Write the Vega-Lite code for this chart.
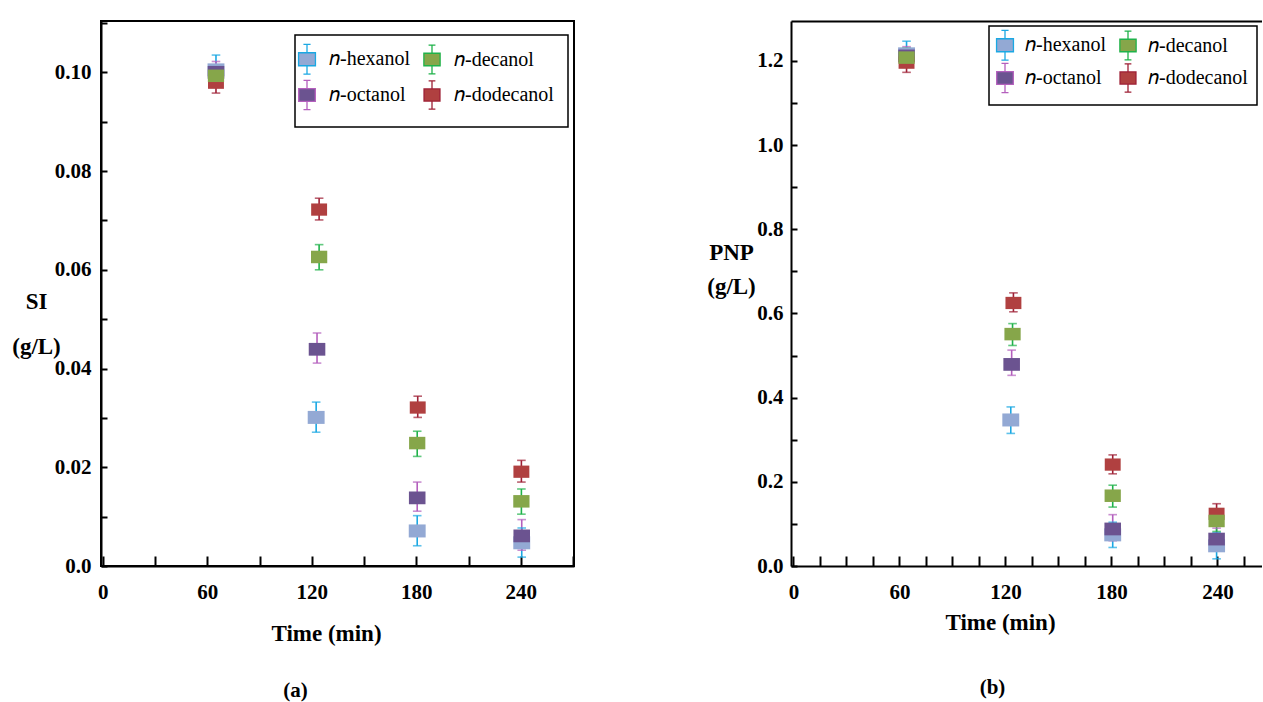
{
  "$schema": "https://vega.github.io/schema/vega-lite/v6.json",
  "background": "white",
  "padding": {"left": 10, "top": 10, "right": 0, "bottom": 0},
  "spacing": 131,
  "resolve": {"scale": {"fill": "independent", "stroke": "independent", "size": "independent"}, "legend": {"fill": "independent", "stroke": "independent", "size": "independent"}},
  "datasets": {
    "si": [
      {"s": "𝑛-hexanol", "t": 65, "v": 0.1005, "lo": 0.0975, "hi": 0.1035},
      {"s": "𝑛-hexanol", "t": 122.5, "v": 0.0301, "lo": 0.0271, "hi": 0.0332},
      {"s": "𝑛-hexanol", "t": 180.5, "v": 0.0071, "lo": 0.0041, "hi": 0.0102},
      {"s": "𝑛-hexanol", "t": 240.5, "v": 0.0047, "lo": 0.0018, "hi": 0.0077},
      {"s": "𝑛-octanol", "t": 65, "v": 0.1, "lo": 0.0978, "hi": 0.1022},
      {"s": "𝑛-octanol", "t": 123, "v": 0.0439, "lo": 0.0411, "hi": 0.0472},
      {"s": "𝑛-octanol", "t": 180.5, "v": 0.0138, "lo": 0.0111, "hi": 0.017},
      {"s": "𝑛-octanol", "t": 240.5, "v": 0.0061, "lo": 0.0032, "hi": 0.0094},
      {"s": "𝑛-dodecanol", "t": 65, "v": 0.0979, "lo": 0.0958, "hi": 0.1},
      {"s": "𝑛-dodecanol", "t": 124.2, "v": 0.0722, "lo": 0.0701, "hi": 0.0745},
      {"s": "𝑛-dodecanol", "t": 180.8, "v": 0.0321, "lo": 0.0301, "hi": 0.0344},
      {"s": "𝑛-dodecanol", "t": 240.3, "v": 0.0191, "lo": 0.017, "hi": 0.0214},
      {"s": "𝑛-decanol", "t": 65, "v": 0.0993, "lo": 0.0973, "hi": 0.1013},
      {"s": "𝑛-decanol", "t": 124.2, "v": 0.0626, "lo": 0.06, "hi": 0.0651},
      {"s": "𝑛-decanol", "t": 180.5, "v": 0.0249, "lo": 0.0222, "hi": 0.0273},
      {"s": "𝑛-decanol", "t": 240.3, "v": 0.0131, "lo": 0.0105, "hi": 0.0156}
    ],
    "pnp": [
      {"s": "𝑛-hexanol", "t": 64, "v": 1.217, "lo": 1.187, "hi": 1.247},
      {"s": "𝑛-hexanol", "t": 123, "v": 0.347, "lo": 0.315, "hi": 0.378},
      {"s": "𝑛-hexanol", "t": 180.7, "v": 0.074, "lo": 0.044, "hi": 0.104},
      {"s": "𝑛-hexanol", "t": 239.5, "v": 0.048, "lo": 0.017, "hi": 0.079},
      {"s": "𝑛-octanol", "t": 64, "v": 1.212, "lo": 1.19, "hi": 1.234},
      {"s": "𝑛-octanol", "t": 123.5, "v": 0.479, "lo": 0.453, "hi": 0.513},
      {"s": "𝑛-octanol", "t": 180.7, "v": 0.088, "lo": 0.06, "hi": 0.122},
      {"s": "𝑛-octanol", "t": 239.5, "v": 0.064, "lo": 0.04, "hi": 0.09},
      {"s": "𝑛-dodecanol", "t": 64, "v": 1.196, "lo": 1.173, "hi": 1.219},
      {"s": "𝑛-dodecanol", "t": 124.5, "v": 0.625, "lo": 0.604, "hi": 0.649},
      {"s": "𝑛-dodecanol", "t": 180.7, "v": 0.241, "lo": 0.219, "hi": 0.264},
      {"s": "𝑛-dodecanol", "t": 239.5, "v": 0.124, "lo": 0.1, "hi": 0.148},
      {"s": "𝑛-decanol", "t": 64, "v": 1.208, "lo": 1.185, "hi": 1.231},
      {"s": "𝑛-decanol", "t": 124, "v": 0.551, "lo": 0.524, "hi": 0.576},
      {"s": "𝑛-decanol", "t": 180.7, "v": 0.167, "lo": 0.14, "hi": 0.192},
      {"s": "𝑛-decanol", "t": 239.5, "v": 0.107, "lo": 0.082, "hi": 0.13}
    ]
  },
  "hconcat": [
    {
      "width": 473,
      "height": 545,
      "data": {"name": "si"},
      "title": {"text": "(a)", "orient": "bottom", "anchor": "middle", "frame": "group", "dx": -42, "offset": 35, "fontSize": 21, "fontWeight": "bold", "font": "Liberation Serif", "color": "black"},
      "layer": [
        {
          "mark": {"type": "rule", "strokeWidth": 1.6},
          "encoding": {
            "x": {"field": "t", "type": "quantitative", "scale": {"domain": [-1, 270.5], "nice": false, "zero": false},
              "axis": {"values": [0,15,30,45,60,75,90,105,120,135,150,165,180,195,210,225,240,255,270],
                "labelExpr": "datum.value % 60 === 0 && datum.value <= 240 ? datum.label : ''",
                "tickSize": -10, "labelPadding": 25, "labelOverlap": false, "labelFlush": false,
                "encode": {"ticks": {"update": {"y2": {"signal": "datum.value % 30 === 0 ? -10 : -5"}}}},
                "title": "Time (min)", "titleX": 225, "titleY": 74, "titleAlign": "center", "titleBaseline": "alphabetic"}},
            "y": {"field": "lo", "type": "quantitative", "scale": {"domain": [0, 0.1104], "nice": false},
              "axis": {"values": [0,0.01,0.02,0.03,0.04,0.05,0.06,0.07,0.08,0.09,0.1,0.11],
                "labelExpr": "round(datum.value*100) % 2 === 0 ? (datum.value === 0 ? '0.0' : format(datum.value, '.2f')) : ''",
                "tickSize": -6, "labelPadding": 16, "labelOverlap": false, "labelFlush": false,
                "title": ["SI", "(g/L)"], "titleAngle": 0, "titleX": -65, "titleY": 287, "titleAlign": "center", "titleBaseline": "alphabetic", "titleLineHeight": 45}},
            "y2": {"field": "hi"},
            "stroke": {"field": "s", "type": "nominal", "scale": {"domain": ["𝑛-hexanol", "𝑛-octanol", "𝑛-decanol", "𝑛-dodecanol"], "range": ["#1ba8e3", "#b45fbd", "#1fb24a", "#9e1f35"]}}
          }
        },
        {
          "mark": {"type": "tick", "orient": "horizontal", "size": 7, "thickness": 0.01, "filled": false, "strokeWidth": 1.6},
          "encoding": {
            "x": {"field": "t", "type": "quantitative"},
            "y": {"field": "lo", "type": "quantitative"},
            "stroke": {"field": "s", "type": "nominal"}
          }
        },
        {
          "mark": {"type": "tick", "orient": "horizontal", "size": 7, "thickness": 0.01, "filled": false, "strokeWidth": 1.6},
          "encoding": {
            "x": {"field": "t", "type": "quantitative"},
            "y": {"field": "hi", "type": "quantitative"},
            "stroke": {"field": "s", "type": "nominal"}
          }
        },
        {
          "mark": {"type": "point", "shape": "M-1.3,-1H1.3V1H-1.3Z", "filled": true, "opacity": 1, "strokeWidth": 0},
          "encoding": {
            "x": {"field": "t", "type": "quantitative"},
            "y": {"field": "v", "type": "quantitative"},
            "fill": {"field": "s", "type": "nominal", "scale": {"domain": ["𝑛-hexanol", "𝑛-octanol", "𝑛-decanol", "𝑛-dodecanol"], "range": ["#93a9d4", "#6b5390", "#86a64a", "#b04040"]},
              "legend": {"orient": "none", "legendX": 194, "legendY": 14, "columns": 2, "title": null,
                "symbolType": "M-1.3,-1H1.3V1H-1.3Z M0,-1V-2.3 M-0.55,-2.3H0.55 M0,1V2.3 M-0.55,2.3H0.55",
                "symbolOpacity": 1,
                "strokeColor": "black", "fillColor": "white", "padding": 14, "rowPadding": 0, "columnPadding": 11, "symbolOffset": -12,
                "labelFont": "Liberation Serif", "labelFontSize": 20, "labelColor": "black", "labelOffset": 12,
                "encode": {"symbols": {"update": {"strokeWidth": {"value": 1.3}, "opacity": {"value": 1}, "fillOpacity": {"value": 1}, "strokeOpacity": {"value": 1}}}, "legend": {"update": {"strokeWidth": {"value": 1.5}}}}}},
            "stroke": {"field": "s", "type": "nominal"},
            "size": {"field": "s", "type": "nominal", "scale": {"domain": ["𝑛-hexanol", "𝑛-octanol", "𝑛-decanol", "𝑛-dodecanol"], "range": [169, 150, 150, 121]}}
          }
        }
      ]
    },
    {
      "width": 471,
      "height": 545,
      "data": {"name": "pnp"},
      "view": {"stroke": null},
      "title": {"text": "(b)", "orient": "bottom", "anchor": "middle", "frame": "group", "dx": -34, "offset": 43, "fontSize": 21, "fontWeight": "bold", "font": "Liberation Serif", "color": "black"},
      "resolve": {"axis": {"x": "independent"}},
      "layer": [
        {
          "mark": {"type": "rule", "strokeWidth": 1.6},
          "encoding": {
            "x": {"field": "t", "type": "quantitative", "scale": {"domain": [-1.4, 265.2], "nice": false, "zero": false},
              "axis": {"orient": "bottom", "values": [0,15,30,45,60,75,90,105,120,135,150,165,180,195,210,225,240,255],
                "labelExpr": "datum.value % 60 === 0 && datum.value <= 240 ? datum.label : ''",
                "tickSize": -10, "labelPadding": 25, "labelOverlap": false, "labelFlush": false,
                "encode": {"ticks": {"update": {"y2": {"signal": "datum.value % 30 === 0 ? -10 : -5"}}}},
                "title": "Time (min)", "titleX": 209, "titleY": 63, "titleAlign": "center", "titleBaseline": "alphabetic"}},
            "y": {"field": "lo", "type": "quantitative", "scale": {"domain": [0, 1.295], "nice": false},
              "axis": {"values": [0,0.1,0.2,0.3,0.4,0.5,0.6,0.7,0.8,0.9,1.0,1.1,1.2],
                "labelExpr": "round(datum.value*10) % 2 === 0 ? format(datum.value, '.1f') : ''",
                "tickSize": -6, "labelPadding": 14, "labelOverlap": false, "labelFlush": false,
                "title": ["PNP", "(g/L)"], "titleAngle": 0, "titleX": -60, "titleY": 238, "titleAlign": "center", "titleBaseline": "alphabetic", "titleLineHeight": 34}},
            "y2": {"field": "hi"},
            "stroke": {"field": "s", "type": "nominal", "scale": {"domain": ["𝑛-hexanol", "𝑛-octanol", "𝑛-decanol", "𝑛-dodecanol"], "range": ["#1ba8e3", "#b45fbd", "#1fb24a", "#9e1f35"]}}
          }
        },
        {
          "mark": {"type": "tick", "orient": "horizontal", "size": 7, "thickness": 0.01, "filled": false, "strokeWidth": 1.6},
          "encoding": {
            "x": {"field": "t", "type": "quantitative", "axis": null},
            "y": {"field": "lo", "type": "quantitative"},
            "stroke": {"field": "s", "type": "nominal"}
          }
        },
        {
          "mark": {"type": "tick", "orient": "horizontal", "size": 7, "thickness": 0.01, "filled": false, "strokeWidth": 1.6},
          "encoding": {
            "x": {"field": "t", "type": "quantitative", "axis": null},
            "y": {"field": "hi", "type": "quantitative"},
            "stroke": {"field": "s", "type": "nominal"}
          }
        },
        {
          "mark": {"type": "point", "shape": "M-1.3,-1H1.3V1H-1.3Z", "filled": true, "opacity": 1, "strokeWidth": 0},
          "encoding": {
            "x": {"field": "t", "type": "quantitative", "axis": {"orient": "top", "labels": false, "ticks": false, "title": null, "domain": true}},
            "y": {"field": "v", "type": "quantitative"},
            "fill": {"field": "s", "type": "nominal", "scale": {"domain": ["𝑛-hexanol", "𝑛-octanol", "𝑛-decanol", "𝑛-dodecanol"], "range": ["#93a9d4", "#6b5390", "#86a64a", "#b04040"]},
              "legend": {"orient": "none", "legendX": 198, "legendY": 5, "columns": 2, "title": null,
                "symbolType": "M-1.3,-1H1.3V1H-1.3Z M0,-1V-2.3 M-0.55,-2.3H0.55 M0,1V2.3 M-0.55,2.3H0.55",
                "symbolOpacity": 1,
                "strokeColor": "black", "fillColor": "white", "padding": 9, "rowPadding": -3, "columnPadding": 11, "symbolOffset": -3,
                "labelFont": "Liberation Serif", "labelFontSize": 20, "labelColor": "black", "labelOffset": 10,
                "encode": {"symbols": {"update": {"strokeWidth": {"value": 1.3}, "opacity": {"value": 1}, "fillOpacity": {"value": 1}, "strokeOpacity": {"value": 1}}}, "legend": {"update": {"strokeWidth": {"value": 1.5}}}}}},
            "stroke": {"field": "s", "type": "nominal"},
            "size": {"field": "s", "type": "nominal", "scale": {"domain": ["𝑛-hexanol", "𝑛-octanol", "𝑛-decanol", "𝑛-dodecanol"], "range": [169, 150, 150, 121]}}
          }
        }
      ]
    }
  ],
  "config": {
    "font": "Liberation Serif",
    "view": {"stroke": "black", "strokeWidth": 2},
    "axis": {"grid": false, "domainColor": "black", "domainWidth": 2, "tickColor": "black", "tickWidth": 2,
      "labelFont": "Liberation Serif", "labelFontWeight": "bold", "labelFontSize": 21, "labelColor": "black",
      "titleFont": "Liberation Serif", "titleFontWeight": "bold", "titleFontSize": 23, "titleColor": "black"}
  }
}
